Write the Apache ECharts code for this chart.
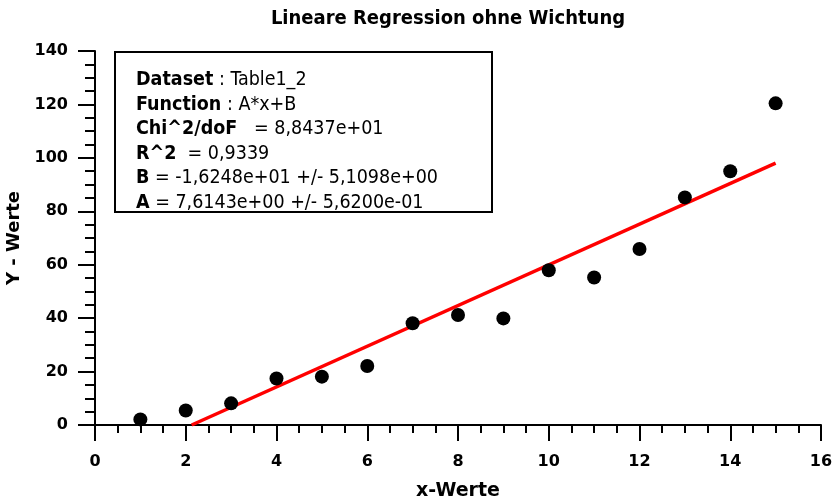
<!DOCTYPE html>
<html>
<head>
<meta charset="utf-8">
<script src="https://cdn.jsdelivr.net/npm/echarts@6/dist/echarts.min.js"></script>
<style>html,body{margin:0;padding:0;background:#fff}#c{width:832px;height:499px}</style>
</head>
<body>
<div id="c"></div>
<script>
// Data
var xValues = [1, 2, 3, 4, 5, 6, 7, 8, 9, 10, 11, 12, 13, 14, 15];
var yValues = [2.1, 5.4, 8.1, 17.4, 18.1, 22.1, 38.1, 41.2, 39.9, 57.9, 55.2, 65.9, 85.2, 95.0, 120.4];
// Regression line endpoints (as drawn)
var fitX = [2.13, 15];
var fitY = [0, 98.0];
var titleText = 'Lineare Regression ohne Wichtung';
var xName = 'x-Werte';
var yName = 'Y - Werte';
var boxLabels = ['Dataset', 'Function', 'Chi^2/doF', 'R^2', 'B', 'A'];
var boxValues = [' : Table1_2', ' : A*x+B', '   = 8,8437e+01', '  = 0,9339', ' = -1,6248e+01 +/- 5,1098e+00', ' = 7,6143e+00 +/- 5,6200e-01'];

var FONT = 'DejaVu Sans';
var CFONT = 'DejaVu Sans Condensed';
var chart = echarts.init(document.getElementById('c'), null, {renderer: 'canvas'});

var points = xValues.map(function (x, i) { return [x, yValues[i]]; });
var fitLine = fitX.map(function (x, i) { return [x, fitY[i]]; });

var boxText = boxLabels.map(function (l, i) {
  return '{b|' + l + '}{r|' + boxValues[i] + '}';
}).join('\n');

var axisCommon = {
  type: 'value',
  axisLine: {show: true, lineStyle: {color: '#000', width: 2}},
  axisTick: {show: true, lineStyle: {color: '#000', width: 2}},
  minorTick: {show: true, splitNumber: 4, lineStyle: {color: '#000', width: 2}},
  splitLine: {show: false},
  minorSplitLine: {show: false},
  nameTextStyle: {fontFamily: FONT, fontWeight: 'bold', fontSize: 18, color: '#000'}
};

chart.setOption({
  animation: false,
  backgroundColor: '#fff',
  grid: {left: 95, right: 11, top: 51, bottom: 74, containLabel: false, outerBoundsMode: 'none'},
  xAxis: echarts.util.merge({
    min: 0, max: 16, interval: 2,
    name: xName, nameLocation: 'middle', nameGap: 57,
    nameTextStyle: {fontSize: 19},
    axisTick: {length: 16},
    minorTick: {length: 8},
    axisLabel: {margin: 29, fontFamily: FONT, fontWeight: 'bold', fontSize: 16, color: '#000'}
  }, axisCommon),
  yAxis: echarts.util.merge({
    min: 0, max: 140, interval: 20,
    name: yName, nameLocation: 'middle', nameGap: 60,
    axisTick: {length: 17},
    minorTick: {length: 10},
    axisLabel: {margin: 27, fontFamily: FONT, fontWeight: 'bold', fontSize: 16, color: '#000'}
  }, axisCommon),
  graphic: [
    {
      type: 'text', z: 10, x: 448, y: 9,
      style: {text: titleText, align: 'center', fontFamily: CFONT, fontSize: 20, fontWeight: 'bold', fill: '#000'}
    },
    {
      type: 'rect', z: 10,
      shape: {x: 115, y: 52, width: 377, height: 160},
      style: {fill: '#fff', stroke: '#000', lineWidth: 2}
    },
    {
      type: 'text', z: 11, x: 136, y: 68,
      style: {
        text: boxText,
        lineHeight: 24.5,
        rich: {
          b: {fontFamily: CFONT, fontWeight: 'bold', fontSize: 19.5, fill: '#000', lineHeight: 24.5},
          r: {fontFamily: CFONT, fontSize: 19.5, fill: '#000', lineHeight: 24.5}
        }
      }
    }
  ],
  series: [
    {
      type: 'line', data: fitLine, showSymbol: false, symbol: 'none',
      lineStyle: {color: '#ff0000', width: 3.5}, z: 2, clip: true
    },
    {
      type: 'scatter', data: points, symbol: 'circle', symbolSize: 14,
      itemStyle: {color: '#000', opacity: 1}, z: 3
    }
  ]
});
</script>
</body>
</html>
